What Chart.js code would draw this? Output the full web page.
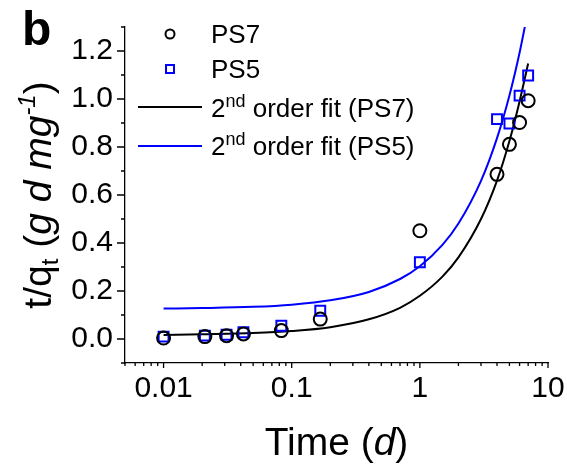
<!DOCTYPE html>
<html>
<head>
<meta charset="utf-8">
<script src="https://cdn.jsdelivr.net/npm/chart.js@4"></script>
<style>
  html, body { margin: 0; padding: 0; background: #fff; }
</style>
</head>
<body>
<canvas id="chart" width="567" height="466"></canvas>
<script>
// sampling times (days) and t/qt for each sample
const sampleTime = [0.01, 0.021, 0.031, 0.042, 0.083, 0.167, 1, 4, 5, 6, 7];
const ps7 = [0.004, 0.01, 0.014, 0.021, 0.035, 0.083, 0.451, 0.686, 0.811, 0.902, 0.993];
const ps5 = [0.01, 0.014, 0.018, 0.028, 0.055, 0.118, 0.32, 0.916, 0.898, 1.014, 1.098];

// pseudo-second-order fit curves
const fitTime = [0.01, 0.02, 0.05, 0.1, 0.2, 0.4, 0.7, 1, 1.5, 2, 3, 4, 5, 6, 7];
const fitPS7 = [0.017, 0.02, 0.025, 0.033, 0.049, 0.082, 0.13, 0.18, 0.26, 0.34, 0.5, 0.66, 0.825, 0.99, 1.148];
const fitPS5 = [0.127, 0.129, 0.134, 0.143, 0.161, 0.196, 0.25, 0.303, 0.392, 0.481, 0.659, 0.837, 1.015, 1.193, 1.371];

// axis ticks
const xMajor = [0.01, 0.1, 1, 10];
const xMinor = [0.005, 0.006, 0.007, 0.008, 0.009,
  0.02, 0.03, 0.04, 0.05, 0.06, 0.07, 0.08, 0.09,
  0.2, 0.3, 0.4, 0.5, 0.6, 0.7, 0.8, 0.9,
  2, 3, 4, 5, 6, 7, 8, 9];
const yMajor = [0, 0.2, 0.4, 0.6, 0.8, 1.0, 1.2];
const yMinor = [-0.1, 0.1, 0.3, 0.5, 0.7, 0.9, 1.1, 1.3];

const FONT = '"Liberation Sans", Arial, Helvetica, sans-serif';
const BLUE = '#0000ff';

const pts = (xs, ys) => xs.map((x, i) => ({x, y: ys[i]}));

function font(size, italic, bold) {
  return (italic ? 'italic ' : '') + (bold ? 'bold ' : '') + size + 'px ' + FONT;
}

// draw a run of text pieces (with sub/superscripts) along a baseline
function richWidth(ctx, segs) {
  let w = 0;
  segs.forEach(s => { ctx.font = font(s.size, s.italic); w += ctx.measureText(s.text).width; });
  return w;
}
function drawRich(ctx, segs, x, y) {
  ctx.textBaseline = 'alphabetic';
  ctx.textAlign = 'left';
  segs.forEach(s => {
    ctx.font = font(s.size, s.italic);
    ctx.fillText(s.text, x, y + (s.dy || 0));
    x += ctx.measureText(s.text).width;
  });
}

const axisTicks = {
  id: 'axisTicks',
  afterDraw(chart) {
    const {ctx, chartArea: a, scales: {x, y}} = chart;
    ctx.save();
    ctx.strokeStyle = '#000';
    ctx.lineWidth = 1.3;
    ctx.beginPath();
    const xt = (v, len) => {
      const px = x.getPixelForValue(v);
      ctx.moveTo(px, a.bottom); ctx.lineTo(px, a.bottom + len);
    };
    const yt = (v, len) => {
      const py = y.getPixelForValue(v);
      ctx.moveTo(a.left, py); ctx.lineTo(a.left - len, py);
    };
    xMajor.forEach(v => xt(v, 5));
    xMinor.forEach(v => xt(v, 3));
    yMajor.forEach(v => yt(v, 8));
    yMinor.forEach(v => yt(v, 4));
    ctx.stroke();
    ctx.restore();
  }
};

const annotations = {
  id: 'annotations',
  afterDraw(chart) {
    const {ctx, chartArea: a} = chart;
    ctx.save();
    ctx.fillStyle = '#000';

    // panel letter
    ctx.font = font(48, false, true);
    ctx.textBaseline = 'alphabetic';
    ctx.fillText('b', 22, 45);

    // x title
    const xTitle = [
      {text: 'Time (', size: 39},
      {text: 'd', size: 39, italic: true},
      {text: ')', size: 39}
    ];
    const xw = richWidth(ctx, xTitle);
    drawRich(ctx, xTitle, (a.left + a.right) / 2 - xw / 2, 455);

    // y title, rotated
    const yTitle = [
      {text: 't/q', size: 39},
      {text: 't', size: 24, dy: 7},
      {text: ' (', size: 39},
      {text: 'g d mg', size: 39, italic: true},
      {text: '-1', size: 24, italic: true, dy: -16},
      {text: ')', size: 39}
    ];
    const yw = richWidth(ctx, yTitle);
    ctx.save();
    ctx.translate(51, (a.top + a.bottom) / 2);
    ctx.rotate(-Math.PI / 2);
    drawRich(ctx, yTitle, -yw / 2, 0);
    ctx.restore();

    // legend
    ctx.lineWidth = 2;
    ctx.strokeStyle = '#000';
    ctx.beginPath();
    ctx.arc(170, 34, 4.5, 0, Math.PI * 2);
    ctx.stroke();
    ctx.strokeStyle = BLUE;
    ctx.strokeRect(166, 65, 8, 8);

    ctx.strokeStyle = '#000';
    ctx.beginPath(); ctx.moveTo(138, 107); ctx.lineTo(202, 107); ctx.stroke();
    ctx.strokeStyle = BLUE;
    ctx.beginPath(); ctx.moveTo(138, 146); ctx.lineTo(202, 146); ctx.stroke();

    drawRich(ctx, [{text: 'PS7', size: 26}], 211, 43);
    drawRich(ctx, [{text: 'PS5', size: 26}], 211, 78);
    const fitLabel = name => [
      {text: '2', size: 26},
      {text: 'nd', size: 18, dy: -10},
      {text: ' order fit (' + name + ')', size: 26}
    ];
    drawRich(ctx, fitLabel('PS7'), 211, 117);
    drawRich(ctx, fitLabel('PS5'), 211, 155);
    ctx.restore();
  }
};

new Chart(document.getElementById('chart'), {
  type: 'scatter',
  data: {
    datasets: [
      {
        label: 'PS7',
        data: pts(sampleTime, ps7),
        pointStyle: 'circle',
        pointRadius: 6.5,
        pointBorderWidth: 2,
        pointBorderColor: '#000',
        pointBackgroundColor: 'rgba(0,0,0,0)',
        showLine: false
      },
      {
        label: 'PS5',
        data: pts(sampleTime, ps5),
        pointStyle: 'rect',
        pointRadius: 7,
        pointBorderWidth: 2,
        pointBorderColor: BLUE,
        pointBackgroundColor: 'rgba(0,0,0,0)',
        showLine: false
      },
      {
        label: '2nd order fit (PS7)',
        data: pts(fitTime, fitPS7),
        showLine: true,
        borderColor: '#000',
        borderWidth: 2,
        pointRadius: 0,
        cubicInterpolationMode: 'monotone'
      },
      {
        label: '2nd order fit (PS5)',
        data: pts(fitTime, fitPS5),
        showLine: true,
        borderColor: BLUE,
        borderWidth: 2,
        pointRadius: 0,
        cubicInterpolationMode: 'monotone'
      }
    ]
  },
  options: {
    responsive: false,
    animation: false,
    devicePixelRatio: 1,
    layout: {padding: {top: 27, right: 19, left: 0, bottom: 0}},
    plugins: {
      legend: {display: false},
      tooltip: {enabled: false}
    },
    scales: {
      x: {
        type: 'logarithmic',
        min: 0.005,
        max: 10,
        afterBuildTicks: s => { s.ticks = xMajor.concat(xMinor).sort((a, b) => a - b).map(v => ({value: v})); },
        afterFit: s => { s.height = 103; s.paddingLeft = 0; s.paddingRight = 0; },
        grid: {display: false, drawTicks: false},
        border: {display: true, color: '#000', width: 1.3},
        ticks: {
          autoSkip: false,
          maxRotation: 0,
          padding: 8,
          color: '#000',
          font: {family: FONT, size: 30},
          callback: v => xMajor.includes(v) ? String(v) : ''
        }
      },
      y: {
        min: -0.1,
        max: 1.3,
        afterBuildTicks: s => { s.ticks = yMajor.concat(yMinor).sort((a, b) => a - b).map(v => ({value: v})); },
        afterFit: s => { s.width = 125; s.paddingTop = 0; s.paddingBottom = 0; },
        grid: {display: false, drawTicks: false},
        border: {display: true, color: '#000', width: 1.3},
        ticks: {
          autoSkip: false,
          padding: 12,
          color: '#000',
          font: {family: FONT, size: 30},
          callback: v => yMajor.some(m => Math.abs(m - v) < 1e-9) ? v.toFixed(1) : ''
        }
      }
    }
  },
  plugins: [axisTicks, annotations]
});
</script>
</body>
</html>
